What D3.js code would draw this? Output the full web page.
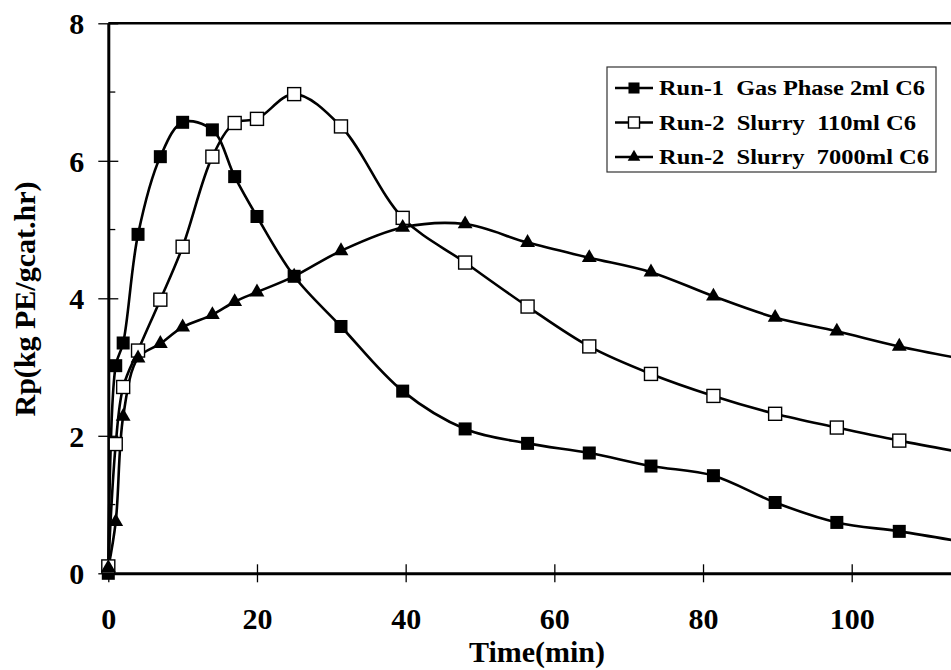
<!DOCTYPE html>
<html>
<head>
<meta charset="utf-8">
<script src="https://cdn.jsdelivr.net/npm/d3@7"></script>
<style>
  body { margin: 0; background: #fff; }
  svg { display: block; }
  svg text {
    font-family: "Times New Roman", "Liberation Serif", Tinos, "Nimbus Roman", "DejaVu Serif", serif !important;
    font-weight: bold;
    fill: #000;
  }
</style>
</head>
<body>
<svg id="chart" width="951" height="670"></svg>
<script>
// Sampling times (min) shared by the three runs
const sampleTimes = [0, 1, 2, 4, 7, 10, 14, 17, 20, 25, 31.3, 39.6, 48, 56.4, 64.7, 73, 81.4, 89.7, 98, 106.4, 114.8];

// Polymerization rate Rp (kg PE / g cat . hr)
const rateGasPhase2ml = [0, 3.02, 3.35, 4.93, 6.06, 6.56, 6.45, 5.77, 5.19, 4.32, 3.59, 2.65, 2.10, 1.89, 1.75, 1.56, 1.42, 1.03, 0.74, 0.61, 0.46];
const rateSlurry110ml = [0.1, 1.88, 2.71, 3.24, 3.98, 4.75, 6.06, 6.55, 6.61, 6.97, 6.50, 5.17, 4.52, 3.88, 3.30, 2.90, 2.58, 2.32, 2.12, 1.93, 1.76];
const rateSlurry7000ml = [0.08, 0.75, 2.28, 3.13, 3.34, 3.58, 3.76, 3.95, 4.09, 4.32, 4.69, 5.03, 5.08, 4.81, 4.59, 4.38, 4.03, 3.72, 3.52, 3.30, 3.12];

const seriesNames = ["Run-1  Gas Phase 2ml C6", "Run-2  Slurry  110ml C6", "Run-2  Slurry  7000ml C6"];
const seriesMarkers = ["filledSquare", "openSquare", "triangle"];

const xTicks = [0, 20, 40, 60, 80, 100];
const yTicks = [0, 2, 4, 6, 8];
const yMinorTicks = [1, 3, 5, 7];

const series = [rateGasPhase2ml, rateSlurry110ml, rateSlurry7000ml].map((vals, i) => ({
  name: seriesNames[i],
  marker: seriesMarkers[i],
  points: sampleTimes.map((t, j) => ({ t, v: vals[j] }))
}));

const svg = d3.select("#chart");
const W = 951, H = 670;
const plotLeft = 108.3, plotTop = 23.3, plotBottom = 573.3;

const x = d3.scaleLinear().domain([0, 120]).range([plotLeft, plotLeft + 120 * 7.434]);
const y = d3.scaleLinear().domain([0, 8]).range([plotBottom, plotTop]);

svg.append("rect").attr("width", W).attr("height", H).attr("fill", "#fff");

// clip region for the plot
svg.append("defs").append("clipPath").attr("id", "plotClip")
  .append("rect").attr("x", plotLeft - 12).attr("y", plotTop - 12)
  .attr("width", W - plotLeft + 12).attr("height", plotBottom - plotTop + 24);

// Frame top edge
svg.append("line")
  .attr("x1", plotLeft).attr("x2", W).attr("y1", y(8)).attr("y2", y(8))
  .attr("stroke", "#000").attr("stroke-width", 2.5);

// Y axis
const yAxis = d3.axisLeft(y).tickValues(yTicks).tickSize(0).tickPadding(0).tickFormat(d3.format("d"));
const gy = svg.append("g").attr("transform", `translate(${plotLeft},0)`).call(yAxis);
gy.attr("font-family", null).attr("font-size", null);
gy.select(".domain").attr("stroke", "#000").attr("stroke-width", 3);
gy.selectAll(".tick text").attr("x", -24).attr("dy", "0.35em").style("font-size", "30px");
gy.selectAll(".tick").append("line")
  .attr("x1", -10).attr("x2", 10).attr("stroke", "#000").attr("stroke-width", 1.3);
svg.append("g").selectAll("line").data(yMinorTicks).join("line")
  .attr("x1", plotLeft).attr("x2", plotLeft + 7).attr("y1", d => y(d)).attr("y2", d => y(d))
  .attr("stroke", "#000").attr("stroke-width", 1.3);

// X axis
const xAxis = d3.axisBottom(x).tickValues(xTicks).tickSize(0).tickPadding(0).tickFormat(d3.format("d"));
const gx = svg.append("g").attr("transform", `translate(0,${plotBottom})`).call(xAxis);
gx.attr("font-family", null).attr("font-size", null);
gx.select(".domain").attr("stroke", "#000").attr("stroke-width", 3);
gx.selectAll(".tick text").attr("y", 56).attr("dy", null).style("font-size", "30px");
gx.selectAll(".tick").append("line")
  .attr("y1", -9).attr("y2", 9).attr("stroke", "#000").attr("stroke-width", 1.3);

// Axis titles
svg.append("text").attr("x", 537).attr("y", 662).attr("text-anchor", "middle")
  .style("font-size", "30px").text("Time(min)");
svg.append("text").attr("transform", `translate(35,299) rotate(-90)`)
  .attr("text-anchor", "middle").style("font-size", "30px").text("Rp(kg PE/gcat.hr)");

// Curves
const lineGen = d3.line().x(d => x(d.t)).y(d => y(d.v)).curve(d3.curveCatmullRom.alpha(0.5));
const plot = svg.append("g").attr("clip-path", "url(#plotClip)");

const sqSize = 13, openSize = 13;
function drawMarker(g, kind, cx, cy, scale) {
  const s = scale || 1;
  if (kind === "filledSquare") {
    const a = sqSize * s;
    g.append("rect").attr("x", cx - a / 2).attr("y", cy - a / 2).attr("width", a).attr("height", a)
      .attr("fill", "#000");
  } else if (kind === "openSquare") {
    const a = openSize * s;
    g.append("rect").attr("x", cx - a / 2).attr("y", cy - a / 2).attr("width", a).attr("height", a)
      .attr("fill", "#fff").attr("stroke", "#000").attr("stroke-width", 1.4);
  } else {
    g.append("path").attr("transform", `translate(${cx},${cy})`)
      .attr("d", d3.symbol().type(d3.symbolTriangle).size(95 * s * s)())
      .attr("fill", "#000");
  }
}

series.forEach(s => {
  plot.append("path").datum(s.points).attr("d", lineGen)
    .attr("fill", "none").attr("stroke", "#000").attr("stroke-width", 2.6);
});
series.forEach(s => {
  const g = plot.append("g");
  s.points.forEach(p => drawMarker(g, s.marker, x(p.t), y(p.v)));
});

// Legend
const legendTextWidths = [266, 257, 270];
const lg = svg.append("g").attr("transform", "translate(607,67)");
lg.append("rect").attr("width", 329).attr("height", 105)
  .attr("fill", "#fff").attr("stroke", "#333").attr("stroke-width", 1.2);
series.forEach((s, i) => {
  const cy = 21 + i * 34.5;
  lg.append("line").attr("x1", 8).attr("x2", 46).attr("y1", cy).attr("y2", cy)
    .attr("stroke", "#000").attr("stroke-width", 2.4);
  drawMarker(lg, s.marker, 27, cy, 0.85);
  lg.append("text").attr("x", 52).attr("y", cy + 7)
    .attr("textLength", legendTextWidths[i]).attr("lengthAdjust", "spacingAndGlyphs")
    .style("font-size", "20px").style("white-space", "pre").text(s.name);
});
</script>
</body>
</html>
